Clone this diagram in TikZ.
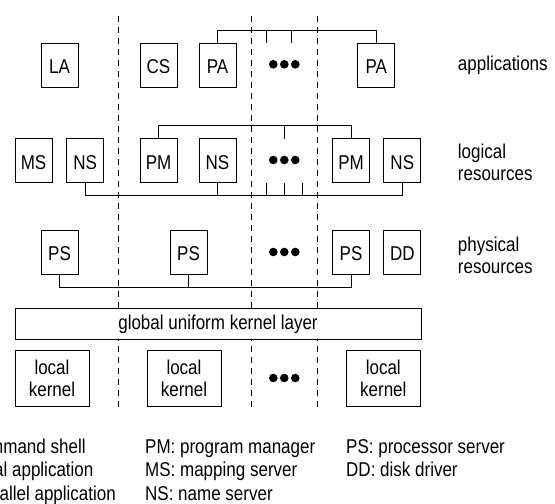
\documentclass[tikz,border=0pt]{standalone}
\usepackage{fontspec}
\setmainfont{Liberation Sans}[FakeStretch=0.85]
\usetikzlibrary{calc}
\begin{document}
\begin{tikzpicture}[x=1pt,y=-1pt,
  lbl/.style={font=\fontsize{20}{22}\selectfont, inner sep=0pt},
  srv/.style={lbl, draw, line width=0.9pt, minimum width=37pt, minimum height=44pt,
              text height=17.3pt, text depth=0pt},
  kern/.style={lbl, draw, line width=0.9pt, align=center, minimum width=74pt, minimum height=55.5pt},
  bus/.style={line width=0.9pt},
  sep/.style={line width=0.8pt, dash pattern=on 6pt off 5pt},
  layer/.style={lbl, anchor=west, align=left},
  legend/.style={lbl, anchor=base west}]
\useasboundingbox (0,0) rectangle (555,504);
\clip (0,0) rectangle (555,504);
\fill[white] (0,0) rectangle (555,504);

% node separators
\foreach \sx/\nm in {118/a,251.3/b,317.7/c}{
  \coordinate (top\nm) at (\sx,16);
  \coordinate (bot\nm) at (\sx,408.5);
  \draw[sep] (top\nm) -- (bot\nm);
}

% applications
\node[srv] (LA)  at (59.5,65)  {LA};
\node[srv] (CS)  at (158.5,65) {CS};
\node[srv] (PA1) at (217.5,65) {PA};
\node[srv] (PA2) at (376.3,65) {PA};

% logical resources
\node[srv] (MS)  at (33.5,160.7)  {MS};
\node[srv] (NS1) at (85.2,160.7)  {NS};
\node[srv] (PM1) at (158.5,160.7) {PM};
\node[srv] (NS2) at (217.5,160.7) {NS};
\node[srv] (PM3) at (351,160.7)   {PM};
\node[srv] (NS3) at (402.3,160.7) {NS};

% physical resources
\node[srv] (PS1) at (59.5,252)  {PS};
\node[srv] (PS2) at (188.5,252) {PS};
\node[srv] (PS3) at (351,252)   {PS};
\node[srv] (DD)  at (402.3,252) {DD};

% kernel layers
\node[lbl, draw, fill=white, line width=0.9pt, minimum width=406pt, minimum height=30.6pt] (GK) at (218,324) {global uniform kernel layer};
\node[kern] (LK1) at (52,378.2)    {local\\kernel};
\node[kern] (LK2) at (184,378.2)   {local\\kernel};
\node[kern] (LK3) at (383.3,378.2) {local\\kernel};

% elided nodes
\foreach \dy/\nm in {64.3/d1,160/d2,252/d3,378/d4}{
  \coordinate (\nm) at (284.3,\dy);
  \foreach \dx in {-11,0,11}
    \fill ($(\nm)+(\dx,0)$) circle (4.3pt);
}

% application bus
\coordinate (pab) at (0,30);
\draw[bus] (PA1.north) |- (pab -| PA2.north) -- (PA2.north);
\foreach \tx in {266,291.7}{
  \coordinate (pat) at (\tx,30);
  \draw[bus] (pat) -- ++(0,13);
}

% program manager bus
\coordinate (pmb) at (0,125);
\draw[bus] (PM1.north) |- (pmb -| PM3.north) -- (PM3.north);
\coordinate (pmt) at (284.3,125);
\draw[bus] (pmt) -- ++(0,14);

% name server bus
\coordinate (nsb) at (0,195);
\draw[bus] (NS1.south) |- (nsb -| NS3.south) -- (NS3.south);
\draw[bus] (NS2.south) -- (NS2.south |- nsb);
\foreach \tx in {266,284.3,302.7}{
  \coordinate (nst) at (\tx,195);
  \draw[bus] (nst) -- ++(0,-12.3);
}

% processor server bus
\coordinate (psb) at (0,287);
\draw[bus] (PS1.south) |- (psb -| PS3.south) -- (PS3.south);
\draw[bus] (PS2.south) -- (PS2.south |- psb);

% layer captions
\node[layer] (capA) at (457.7,65)  {applications};
\node[layer] (capL) at (457.7,162) {logical\\resources};
\node[layer] (capP) at (457.7,255) {physical\\resources};

% legend
\node[legend] (lgCS) at (-62,453.3) {CS: command shell};
\node[legend] (lgLA) at (-58,476.7) {LA: local application};
\node[legend] (lgPA) at (-56,500)   {PA: parallel application};
\node[legend] (lgPM) at (145,453.3) {PM: program manager};
\node[legend] (lgMS) at (145,476.7) {MS: mapping server};
\node[legend] (lgNS) at (145,500)   {NS: name server};
\node[legend] (lgPS) at (346,453.3) {PS: processor server};
\node[legend] (lgDD) at (346,476.7) {DD: disk driver};
\end{tikzpicture}
\end{document}
